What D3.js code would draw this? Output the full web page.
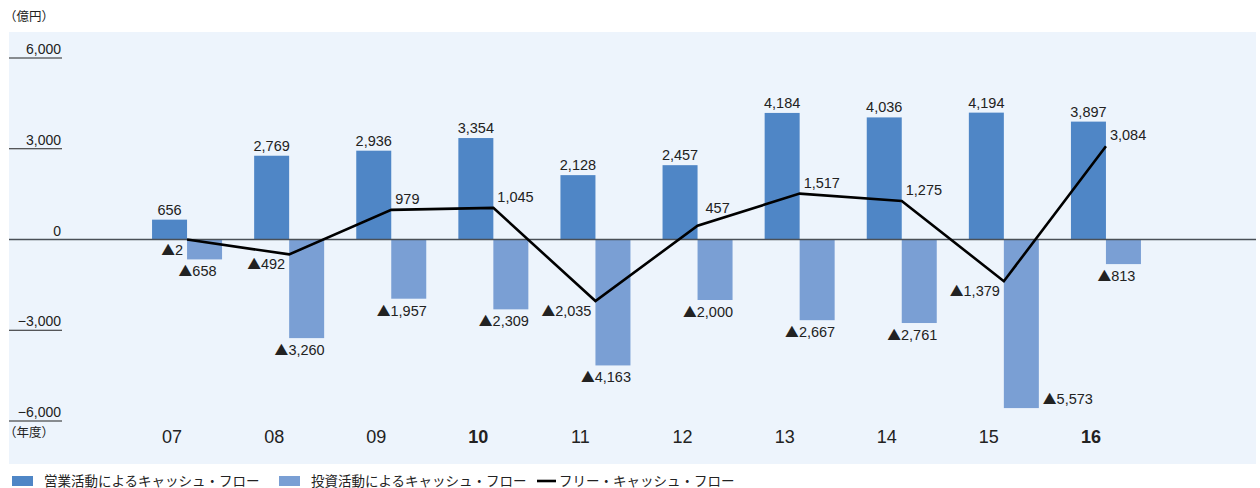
<!DOCTYPE html>
<html>
<head>
<meta charset="utf-8">
<script src="https://cdn.jsdelivr.net/npm/d3@7"></script>
<style>
  body { margin: 0; background: #fff; }
  text { font-family: "Liberation Sans", Arial, "Noto Sans CJK JP", sans-serif; fill: #222; }
  tspan.tri { font-family: "Noto Sans CJK JP", "DejaVu Sans", sans-serif; }
</style>
</head>
<body>
<div id="chart"></div>
<script>
const width = 1260;
const height = 488;

const years = ["07", "08", "09", "10", "11", "12", "13", "14", "15", "16"];
const operating = [656, 2769, 2936, 3354, 2128, 2457, 4184, 4036, 4194, 3897];
const investing = [-658, -3260, -1957, -2309, -4163, -2000, -2667, -2761, -5573, -813];
const freeCash = [-2, -492, 979, 1045, -2035, 457, 1517, 1275, -1379, 3084];
const yTicks = [6000, 3000, 0, -3000, -6000];
const boldYears = ["10", "16"];

const opColor = "#4f86c6";
const invColor = "#7a9fd4";

const fmt = d3.format(",");

// writes "▲1,234" for negatives, the triangle in a font that has a full-size glyph
function valueText(sel, v) {
    if (v < 0) {
        sel.append("tspan").attr("class", "tri").attr("font-size", "0.95em").text("▲");
        sel.append("tspan").text(fmt(-v));
    } else {
        sel.text(fmt(v));
    }
}

const svg = d3.select("#chart")
    .append("svg")
    .attr("width", width)
    .attr("height", height);

// background panel
svg.append("rect")
    .attr("x", 9).attr("y", 32)
    .attr("width", 1247).attr("height", 432)
    .attr("fill", "#edf4fc");

const x = d3.scaleBand()
    .domain(years)
    .range([136, 1157]);

const y = d3.scaleLinear()
    .domain([-6000, 6000])
    .range([421, 58]);

const barW = 35;
const cx = d => x(d) + x.bandwidth() / 2;

// y ticks: short underline with label
const ticks = svg.append("g");
ticks.selectAll("line")
    .data(yTicks.filter(d => d !== 0))
    .join("line")
    .attr("x1", 9).attr("x2", 62)
    .attr("y1", d => y(d)).attr("y2", d => y(d))
    .attr("stroke", "#222").attr("stroke-width", 1.2);
ticks.selectAll("text")
    .data(yTicks)
    .join("text")
    .attr("x", 61)
    .attr("y", d => y(d) - 4)
    .attr("text-anchor", "end")
    .attr("font-size", 14)
    .attr("fill", "#333")
    .text(d => d < 0 ? "−" + fmt(-d) : fmt(d));

svg.append("text").attr("x", 4).attr("y", 21).attr("font-size", 12.5).text("（億円）");
svg.append("text").attr("x", 4).attr("y", 437).attr("font-size", 12.5).text("（年度）");

// bars
svg.append("g").selectAll("rect")
    .data(years)
    .join("rect")
    .attr("x", d => cx(d) - barW)
    .attr("y", (d, i) => y(operating[i]))
    .attr("width", barW)
    .attr("height", (d, i) => y(0) - y(operating[i]))
    .attr("fill", opColor);

svg.append("g").selectAll("rect")
    .data(years)
    .join("rect")
    .attr("x", d => cx(d))
    .attr("y", y(0))
    .attr("width", barW)
    .attr("height", (d, i) => y(investing[i]) - y(0))
    .attr("fill", invColor);

// zero line
svg.append("line")
    .attr("x1", 9).attr("x2", 1256)
    .attr("y1", y(0)).attr("y2", y(0))
    .attr("stroke", "#4a4f56").attr("stroke-width", 1.6);

// free cash flow line
const line = d3.line()
    .x((d, i) => cx(years[i]))
    .y(d => y(d));

svg.append("path")
    .datum(freeCash)
    .attr("d", line)
    .attr("fill", "none")
    .attr("stroke", "#000")
    .attr("stroke-width", 2.6)
    .attr("stroke-linejoin", "miter");

// value labels: operating above the bar
svg.append("g").selectAll("text")
    .data(years)
    .join("text")
    .attr("x", d => cx(d) - barW / 2)
    .attr("y", (d, i) => y(operating[i]) - 5)
    .attr("text-anchor", "middle")
    .attr("font-size", 14.5)
    .each(function (d, i) { valueText(d3.select(this), operating[i]); });

// investing below the bar, or beside it when it would hit the year labels
svg.append("g").selectAll("text")
    .data(years)
    .join("text")
    .each(function (d, i) {
        const v = investing[i];
        const t = d3.select(this).attr("font-size", 14.5);
        if (y(v) + 17 > 412) {
            t.attr("x", cx(d) + barW + 4).attr("y", y(v) - 4).attr("text-anchor", "start");
        } else {
            t.attr("x", cx(d) + barW / 2 - 7).attr("y", y(v) + 17).attr("text-anchor", "middle");
        }
        valueText(t, v);
    });

// free cash flow labels: left-below for negatives, right-above for positives
svg.append("g").selectAll("text")
    .data(freeCash)
    .join("text")
    .attr("font-size", 14.5)
    .each(function (d, i) {
        const t = d3.select(this);
        const px = cx(years[i]);
        const rising = i < freeCash.length - 1 && freeCash[i + 1] - d > 500;
        if (d < 0) {
            t.attr("x", px - 4).attr("y", y(d) + 15).attr("text-anchor", "end");
        } else {
            t.attr("x", px + (rising ? 8 : 4)).attr("y", y(d) - (rising ? 13 : 6)).attr("text-anchor", "start");
        }
        valueText(t, d);
    });

// x axis labels
svg.append("g").selectAll("text")
    .data(years)
    .join("text")
    .attr("x", d => cx(d) - 15)
    .attr("y", 443)
    .attr("text-anchor", "middle")
    .attr("font-size", 18)
    .attr("font-weight", d => boldYears.includes(d) ? "bold" : "normal")
    .attr("fill", d => boldYears.includes(d) ? "#111" : "#333")
    .text(d => d);

// legend
const legendItems = [
    { name: "営業活動によるキャッシュ・フロー", type: "rect", color: opColor, x: 12 },
    { name: "投資活動によるキャッシュ・フロー", type: "rect", color: invColor, x: 279 },
    { name: "フリー・キャッシュ・フロー", type: "line", color: "#000", x: 537 }
];
const legend = svg.append("g");
legendItems.forEach(item => {
    if (item.type === "rect") {
        legend.append("rect")
            .attr("x", item.x).attr("y", 476)
            .attr("width", 21).attr("height", 10)
            .attr("fill", item.color);
    } else {
        legend.append("line")
            .attr("x1", item.x).attr("x2", item.x + 19)
            .attr("y1", 481).attr("y2", 481)
            .attr("stroke", item.color).attr("stroke-width", 2.6);
    }
    legend.append("text")
        .attr("x", item.x + (item.type === "rect" ? 32 : 22))
        .attr("y", 485.5)
        .attr("font-size", 13.5)
        .attr("fill", "#333")
        .text(item.name);
});
</script>
</body>
</html>
